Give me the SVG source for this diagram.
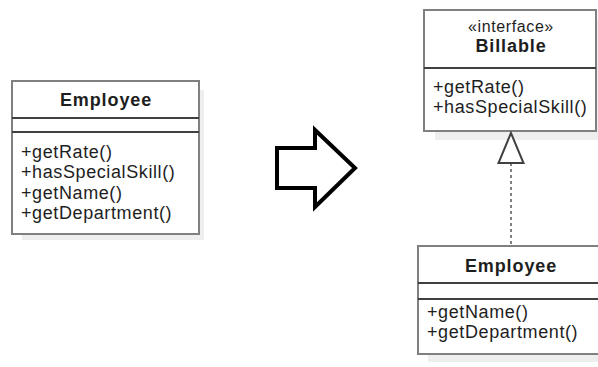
<svg xmlns="http://www.w3.org/2000/svg" width="598" height="367" viewBox="0 0 598 367">
  <style>
    .shadow { fill: #eeeeee; stroke: none; }
    .box { fill: #ffffff; stroke: #808080; stroke-width: 2; }
    .sep { stroke: #404040; stroke-width: 2; }
    .title { font-family: "Liberation Sans", Arial, sans-serif; font-size: 18px; font-weight: bold; fill: #1e1e1e; text-anchor: middle; letter-spacing: 0.9px; }
    .stereo { font-family: "Liberation Sans", Arial, sans-serif; font-size: 16px; fill: #1e1e1e; text-anchor: middle; letter-spacing: 0.6px; }
    .member { font-family: "Liberation Sans", Arial, sans-serif; font-size: 18px; fill: #1e1e1e; letter-spacing: 0.6px; }
    .dash { stroke: #808080; stroke-width: 2; stroke-dasharray: 3 3; fill: none; }
    .realize { fill: #ffffff; stroke: #404040; stroke-width: 2; stroke-linejoin: miter; }
    .big-arrow { fill: #ffffff; stroke: #000000; stroke-width: 4; stroke-linejoin: miter; }
  </style>

  <g id="employee-before">
    <rect class="shadow" x="22" y="90" width="182" height="150"/>
    <rect class="box" x="12" y="81" width="187" height="153"/>
    <line class="sep" x1="12" y1="118" x2="199" y2="118"/>
    <line class="sep" x1="12" y1="132" x2="199" y2="132"/>
    <text class="title" x="106" y="106">Employee</text>
    <text class="member" x="21" y="158">+getRate()</text>
    <text class="member" x="21" y="178">+hasSpecialSkill()</text>
    <text class="member" x="21" y="199">+getName()</text>
    <text class="member" x="21" y="219">+getDepartment()</text>
  </g>

  <g id="transform-arrow">
    <polygon class="big-arrow" points="277,148 315,148 315,130 355,168 315,207 315,188 277,188"/>
  </g>

  <g id="billable">
    <rect class="shadow" x="435" y="20" width="170" height="120"/>
    <rect class="box" x="424" y="10" width="172" height="121"/>
    <line class="sep" x1="424" y1="68" x2="596" y2="68"/>
    <text class="stereo" x="511" y="32">«interface»</text>
    <text class="title" x="511" y="52">Billable</text>
    <text class="member" x="433" y="93">+getRate()</text>
    <text class="member" x="433" y="113">+hasSpecialSkill()</text>
  </g>

  <g id="employee-after">
    <rect class="shadow" x="428" y="255" width="180" height="107"/>
    <rect class="box" x="418" y="246" width="187" height="108"/>
    <line class="sep" x1="418" y1="283" x2="605" y2="283"/>
    <line class="sep" x1="418" y1="299" x2="605" y2="299"/>
    <text class="title" x="511" y="272">Employee</text>
    <text class="member" x="427" y="318">+getName()</text>
    <text class="member" x="427" y="338">+getDepartment()</text>
  </g>

  <g id="connectors">
    <line class="dash" x1="511" y1="163" x2="511" y2="246"/>
    <polygon class="realize" points="511,133 498.5,163 523.5,163"/>
  </g>
</svg>
